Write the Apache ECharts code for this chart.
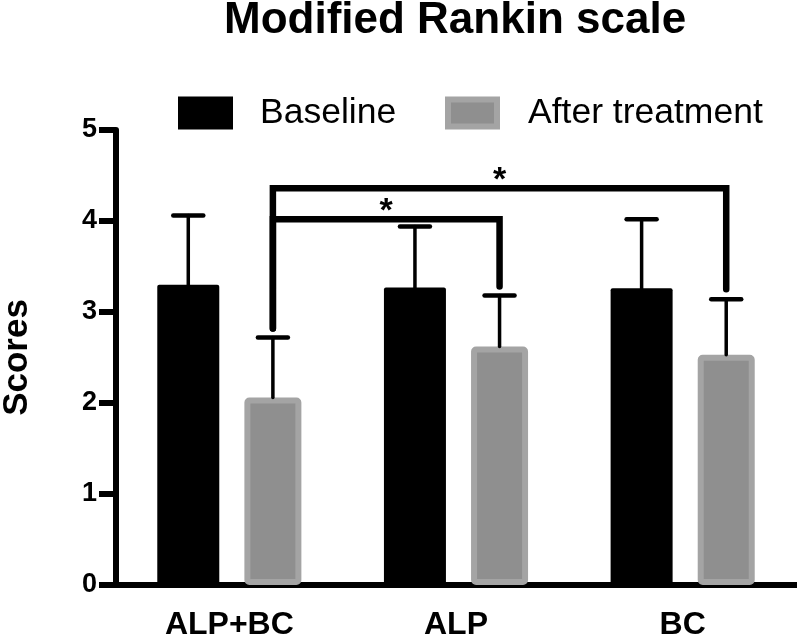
<!DOCTYPE html>
<html><head><meta charset="utf-8">
<script src="https://cdn.jsdelivr.net/npm/echarts@6/dist/echarts.min.js"></script>
<style>html,body{margin:0;padding:0;background:#fff}#c{width:797px;height:636px}</style>
</head><body><div id="c"></div>
<script>
const categories = ['ALP+BC', 'ALP', 'BC'];
const seriesNames = ['Baseline', 'After treatment'];
const baselineMean = [3.30, 3.27, 3.26];
const baselineSD = [0.76, 0.67, 0.76];
const afterMean = [2.06, 2.62, 2.53];
const afterSD = [0.66, 0.56, 0.61];
const yTicks = [0, 1, 2, 3, 4, 5];
// significance brackets (between "After treatment" bars)
const bracketFrom = [0, 0];
const bracketTo = [1, 2];
const bracketTop = [4.02, 4.36];
const bracketLeftEnd = [2.82, 2.82];
const bracketRightEnd = [3.28, 3.25];
const bracketLabels = ['*', '*'];

const FONT = 'Liberation Sans, Arial, Helvetica, sans-serif';
const BLACK_W = 62, GRAY_W = 57, GRAY_BORDER = 6, GAP_PCT = 0.405;
const gapPx = BLACK_W * GAP_PCT;
const sumW = BLACK_W + gapPx + GRAY_W;
const blackOff = -sumW / 2 + BLACK_W / 2;
const grayOff = -sumW / 2 + BLACK_W + gapPx + GRAY_W / 2;

function errRender(off) {
  return function (params, api) {
    const c = api.value(0), m = api.value(1), sd = api.value(2);
    const p0 = api.coord([c, m]);
    const p1 = api.coord([c, m + sd]);
    const x = p0[0] + off;
    return {
      type: 'group', children: [
        { type: 'line', shape: { x1: x, y1: p0[1], x2: x, y2: p1[1] }, style: { stroke: '#000', lineWidth: 3.5, lineCap: 'round' } },
        { type: 'line', shape: { x1: x - 15, y1: p1[1], x2: x + 15, y2: p1[1] }, style: { stroke: '#000', lineWidth: 4.5, lineCap: 'round' } }
      ]
    };
  };
}

function bracketRender(params, api) {
  const f = api.value(0), t = api.value(1), top = api.value(2), le = api.value(3), re = api.value(4);
  const a = api.coord([f, le]), b = api.coord([f, top]), c = api.coord([t, top]), d = api.coord([t, re]);
  const xl = a[0] + grayOff, xr = c[0] + grayOff;
  return {
    type: 'group', children: [
      { type: 'polyline', shape: { points: [[xl, a[1]], [xl, b[1]], [xr, c[1]], [xr, d[1]]] },
        style: { stroke: '#000', lineWidth: 6.5, fill: null, lineCap: 'round', lineJoin: 'miter' } },
      { type: 'text', x: (xl + xr) / 2, y: b[1] - 8,
        style: { text: bracketLabels[params.dataIndex], fill: '#000', font: 'bold 34px ' + FONT, align: 'center', verticalAlign: 'middle' } }
    ]
  };
}

const chart = echarts.init(document.getElementById('c'), null, { renderer: 'canvas' });
chart.setOption({
  animation: false,
  backgroundColor: '#fff',
  textStyle: { fontFamily: FONT },
  title: {
    text: 'Modified Rankin scale', left: 224, top: -1, padding: 0,
    textStyle: { fontSize: 44, fontWeight: 'bold', color: '#000', fontFamily: FONT }
  },
  legend: [
    {
      data: [{ name: seriesNames[0], icon: 'rect', itemStyle: { color: '#000', borderWidth: 0 } }],
      left: 178, top: 95, padding: 0, itemWidth: 55, itemHeight: 33,
      textStyle: { fontSize: 35.5, color: '#000', fontFamily: FONT, padding: [0, 0, 0, 22] }
    },
    {
      data: [{ name: seriesNames[1], icon: 'rect', itemStyle: { color: '#8f8f8f', borderColor: '#a4a4a4', borderWidth: 6 } }],
      left: 445, top: 95, padding: 0, itemWidth: 49, itemHeight: 27,
      textStyle: { fontSize: 35.5, color: '#000', fontFamily: FONT, padding: [0, 0, 0, 26] }
    }
  ],
  grid: { left: 116, right: 1, top: 130, bottom: 51, containLabel: false, outerBoundsMode: 'none' },
  xAxis: {
    type: 'category', data: categories,
    axisLine: { lineStyle: { color: '#000', width: 6 } },
    axisTick: { alignWithLabel: true, length: 16, lineStyle: { color: '#000', width: 5 } },
    axisLabel: { fontSize: 32, fontWeight: 'bold', color: '#000', margin: 24, fontFamily: FONT }
  },
  yAxis: {
    type: 'value', min: yTicks[0], max: yTicks[yTicks.length - 1], interval: 1,
    name: 'Scores', nameLocation: 'middle', nameGap: 81,
    nameTextStyle: { fontSize: 35, fontWeight: 'bold', color: '#000', fontFamily: FONT },
    axisLine: { show: true, lineStyle: { color: '#000', width: 6 } },
    axisTick: { show: true, length: 17, lineStyle: { color: '#000', width: 6 } },
    axisLabel: { fontSize: 27, fontWeight: 'bold', color: '#000', margin: 19, fontFamily: FONT },
    splitLine: { show: false }
  },
  series: [
    {
      name: seriesNames[0], type: 'bar', data: baselineMean, barWidth: BLACK_W, barGap: (GAP_PCT * 100) + '%',
      itemStyle: { color: '#000', borderRadius: 2 }, z: 2
    },
    {
      name: seriesNames[1], type: 'bar', data: afterMean, barWidth: GRAY_W,
      itemStyle: { color: '#8f8f8f', borderColor: '#a4a4a4', borderWidth: GRAY_BORDER, borderRadius: 2 }, z: 2
    },
    {
      type: 'custom', name: 'errBaseline', renderItem: errRender(blackOff), z: 5,
      data: baselineMean.map((m, i) => [i, m, baselineSD[i]]), encode: { x: 0, y: 1 }, silent: true
    },
    {
      type: 'custom', name: 'errAfter', renderItem: errRender(grayOff), z: 5,
      data: afterMean.map((m, i) => [i, m, afterSD[i]]), encode: { x: 0, y: 1 }, silent: true
    },
    {
      type: 'custom', name: 'brackets', renderItem: bracketRender, z: 6,
      data: bracketFrom.map((f, i) => [f, bracketTo[i], bracketTop[i], bracketLeftEnd[i], bracketRightEnd[i]]),
      encode: { x: 0, y: 2 }, silent: true
    }
  ]
});
</script></body></html>
